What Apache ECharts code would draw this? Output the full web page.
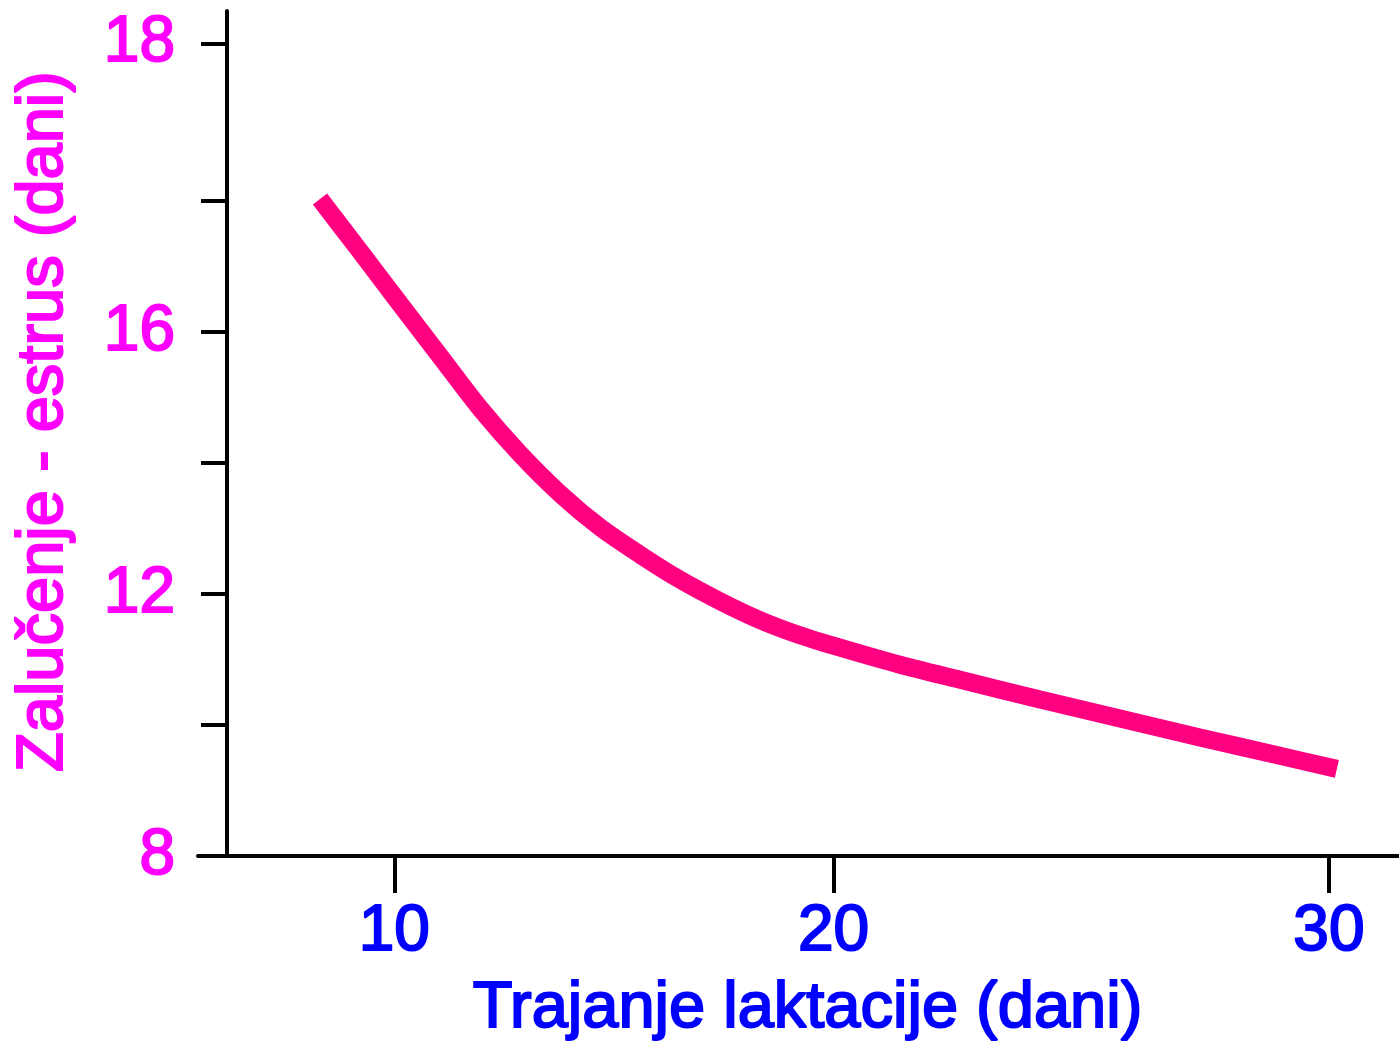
<!DOCTYPE html>
<html>
<head>
<meta charset="utf-8">
<title>Trajanje laktacije</title>
<script src="https://cdn.jsdelivr.net/npm/echarts@6/dist/echarts.min.js"></script>
<style>
  html, body { margin: 0; padding: 0; background: #fff; }
  #chart { width: 1399px; height: 1044px; }
</style>
</head>
<body>
<div id="chart"></div>
<script>
// trajanje laktacije (dani) -> interval zalučenje - estrus (dani)
const lactationDays = [8.61, 9.47, 10.32, 11.18, 12.03, 12.89, 13.75, 14.60, 15.46, 16.31, 17.17,
  18.03, 18.88, 19.74, 21.02, 22.31, 24.02, 25.73, 27.44, 29.15, 30.37]
const weaningToEstrus = [18.03, 17.23, 16.43, 15.63, 14.84, 14.14, 13.53, 13.02, 12.60, 12.22, 11.89,
  11.60, 11.37, 11.18, 10.92, 10.69, 10.39, 10.10, 9.81, 9.53, 9.33]

// ticks sit where the original figure put them (not evenly spaced there)
const xTickValues = [10.2, 19.6, 30.2]
const xTickLabels = ['10', '20', '30']
const yTickValues = [8, 10, 12, 14, 16, 18, 20.4]
const yLabelValues = [8, 12, 16, 20.4]
const yTickLabels = ['8', '12', '16', '18']

const FONT = 'Liberation Sans, Arial, sans-serif'
const MAGENTA = '#ff00ff'
const BLUE = '#0000ff'

function nearestLabel(values, labels, v) {
  let best = 0
  values.forEach((t, i) => {
    if (Math.abs(t - v) < Math.abs(values[best] - v)) best = i
  })
  return labels[best]
}

// thicker strokes, like the original's heavy pixel font
function textStyle(color, size) {
  return { color, fontSize: size, fontFamily: FONT, textBorderColor: color, textBorderWidth: 2 }
}

const chart = echarts.init(document.getElementById('chart'))

chart.setOption({
  backgroundColor: '#fff',
  animation: false,
  grid: { left: 198, right: 0, top: 11, bottom: 188, outerBoundsMode: 'none' },
  xAxis: {
    type: 'value',
    min: 6,
    max: 31.7,
    name: 'Trajanje laktacije (dani)',
    nameLocation: 'middle',
    nameGap: 121,
    nameTextStyle: { ...textStyle(BLUE, 65), padding: [0, 0, 0, 18] },
    axisLine: { lineStyle: { color: '#000', width: 4 } },
    axisTick: { length: 37, lineStyle: { color: '#000', width: 4 }, customValues: xTickValues },
    axisLabel: {
      ...textStyle(BLUE, 64),
      margin: 44,
      customValues: xTickValues,
      formatter: v => nearestLabel(xTickValues, xTickLabels, v)
    },
    splitLine: { show: false }
  },
  yAxis: {
    type: 'value',
    min: 8,
    max: 20.9,
    offset: -29,
    name: 'Zalučenje - estrus (dani)',
    nameLocation: 'middle',
    nameGap: 150,
    nameTextStyle: { ...textStyle(MAGENTA, 65), padding: [0, 0, 0, 24] },
    axisLine: { lineStyle: { color: '#000', width: 4 } },
    axisTick: { length: 26, lineStyle: { color: '#000', width: 4 }, customValues: yTickValues },
    axisLabel: {
      ...textStyle(MAGENTA, 64),
      margin: 52,
      customValues: yLabelValues,
      formatter: v => nearestLabel(yLabelValues, yTickLabels, v)
    },
    splitLine: { show: false }
  },
  series: [{
    type: 'line',
    data: lactationDays.map((d, i) => [d, weaningToEstrus[i]]),
    smooth: 0.3,
    showSymbol: false,
    lineStyle: { color: '#ff0080', width: 18 }
  }]
})
</script>
</body>
</html>
